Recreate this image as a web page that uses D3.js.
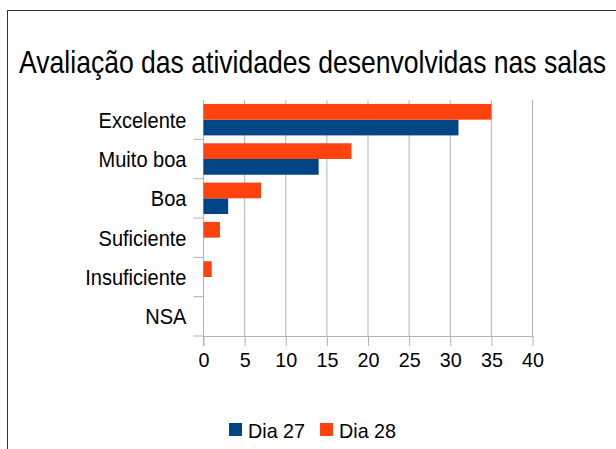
<!DOCTYPE html>
<html>
<head>
<meta charset="utf-8">
<script src="https://cdn.jsdelivr.net/npm/d3@7"></script>
<style>
  body { margin: 0; background: #fff; }
  svg { display: block; font-family: "Liberation Sans", Arial, sans-serif; }
</style>
</head>
<body>
<svg id="chart" width="616" height="449"></svg>
<script>
const categories = ["Excelente", "Muito boa", "Boa", "Suficiente", "Insuficiente", "NSA"];
const dia27 = [31, 14, 3, 0, 0, 0];
const dia28 = [35, 18, 7, 2, 1, 0];
const seriesNames = ["Dia 27", "Dia 28"];
const seriesColors = ["#004586", "#ff420e"];
const xTicks = [0, 5, 10, 15, 20, 25, 30, 35, 40];

const svg = d3.select("#chart");
const plotLeft = 203.5, plotRight = 532.5, plotTop = 100, plotBottom = 336;

// squeeze text horizontally (reference font is a bit condensed)
const condense = (sel, factor) => {
  sel.each(function () {
    const w = this.getComputedTextLength();
    d3.select(this).attr("textLength", w * factor).attr("lengthAdjust", "spacingAndGlyphs");
  });
};

// frame
svg.append("rect")
  .attr("x", 7.5).attr("y", 10.5)
  .attr("width", 640).attr("height", 460)
  .attr("fill", "none").attr("stroke", "#333").attr("stroke-width", 1);

// title (scaled narrower like the original)
svg.append("g")
  .attr("transform", "translate(312.5,73) scale(0.83,1)")
  .append("text")
  .attr("text-anchor", "middle")
  .attr("font-size", 32)
  .attr("fill", "#000")
  .text("Avaliação das atividades desenvolvidas nas salas");

const xScale = d3.scaleLinear().domain([0, 40]).range([plotLeft, plotRight]);
const yScale = d3.scaleBand().domain(categories).range([plotTop, plotBottom]);
const inner = d3.scaleBand().domain(["Dia 28", "Dia 27"]).range([0, yScale.bandwidth()]).paddingInner(0).paddingOuter(0.25);

// grid
svg.append("g")
  .selectAll("line")
  .data(xTicks.slice(1))
  .enter()
  .append("line")
  .attr("x1", (d) => xScale(d)).attr("x2", (d) => xScale(d))
  .attr("y1", plotTop).attr("y2", plotBottom)
  .attr("stroke", "#b3b3b3");

// x axis
const xAxis = svg.append("g")
  .attr("transform", `translate(0,${plotBottom})`)
  .call(d3.axisBottom(xScale).tickValues(xTicks).tickSize(10).tickPadding(6).tickSizeOuter(0));
xAxis.attr("font-family", null);
xAxis.select(".domain").attr("stroke", "#b3b3b3");
xAxis.selectAll(".tick line").attr("stroke", "#b3b3b3");
xAxis.selectAll(".tick text")
  .attr("font-size", 21).attr("fill", "#000")
  .call(condense, 0.94);

// y axis with ticks on band boundaries
svg.append("line")
  .attr("x1", plotLeft).attr("x2", plotLeft)
  .attr("y1", plotTop).attr("y2", plotBottom + 10)
  .attr("stroke", "#b3b3b3");
svg.append("g")
  .selectAll("line")
  .data(categories)
  .enter()
  .append("line")
  .attr("x1", plotLeft - 10).attr("x2", plotLeft)
  .attr("y1", (d) => yScale(d) + yScale.bandwidth())
  .attr("y2", (d) => yScale(d) + yScale.bandwidth())
  .attr("stroke", "#b3b3b3");
svg.append("g")
  .selectAll("text")
  .data(categories)
  .enter()
  .append("text")
  .attr("x", plotLeft - 17)
  .attr("y", (d) => yScale(d) + yScale.bandwidth() / 2)
  .attr("dy", "0.36em")
  .attr("text-anchor", "end")
  .attr("font-size", 22)
  .text((d) => d)
  .call(condense, 0.91);

// bars
const rows = categories.map((c, i) => ({ cat: c, v: [dia27[i], dia28[i]] }));
seriesNames.forEach((name, s) => {
  svg.append("g")
    .selectAll("rect")
    .data(rows.filter((r) => r.v[s] > 0))
    .enter()
    .append("rect")
    .attr("x", xScale(0))
    .attr("y", (d) => yScale(d.cat) + inner(name))
    .attr("width", (d) => xScale(d.v[s]) - xScale(0))
    .attr("height", inner.bandwidth())
    .attr("fill", seriesColors[s]);
});

// legend
const legend = svg.append("g")
  .selectAll("g")
  .data(seriesNames)
  .enter()
  .append("g")
  .attr("transform", (d, i) => `translate(${229 + i * 91},423)`);
legend.append("rect")
  .attr("width", 13).attr("height", 13)
  .attr("fill", (d, i) => seriesColors[i]);
legend.append("text")
  .attr("x", 19).attr("y", 14.5)
  .attr("font-size", 21)
  .text((d) => d)
  .call(condense, 0.94);
</script>
</body>
</html>
